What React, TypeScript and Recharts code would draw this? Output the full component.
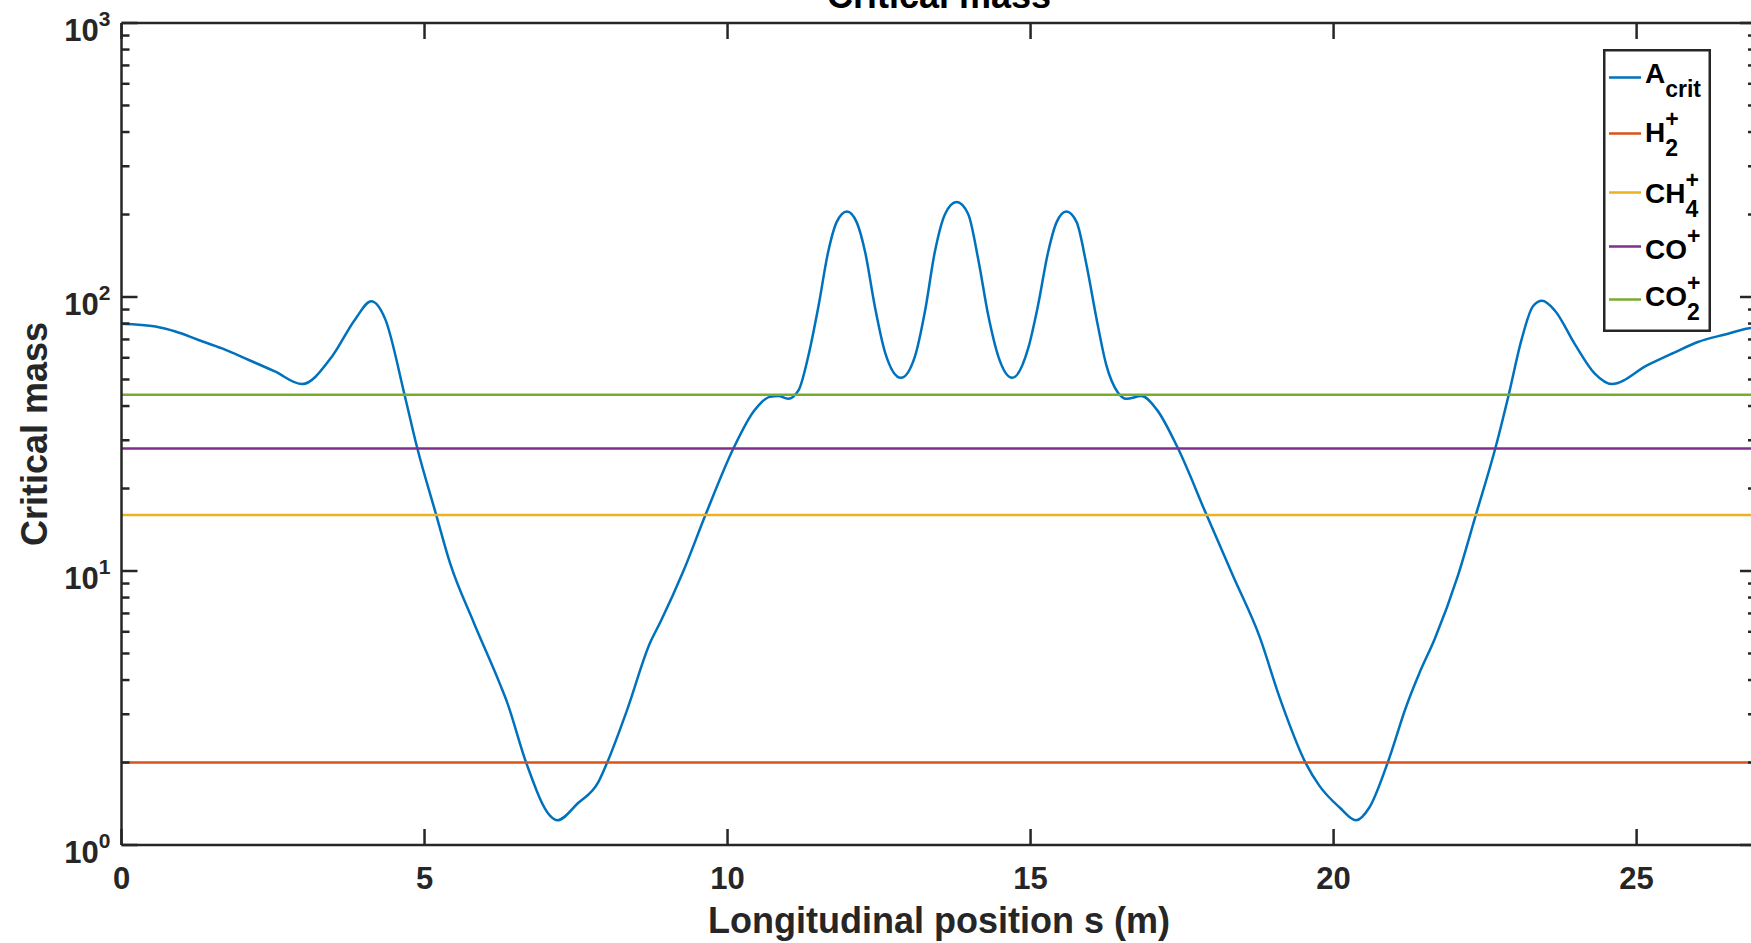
import React from 'react';
import { LineChart, Line, XAxis, YAxis, Legend } from 'recharts';

// longitudinal position s (m) and critical mass
const sPos = [
  0, 0.23, 0.56, 0.89, 1.27, 1.66, 2.1, 2.53, 2.98, 3.47, 3.86, 4.12, 4.35, 4.67, 4.88, 5.19,
  5.42, 5.81, 6.25, 6.36, 6.68, 7.07, 7.19, 7.53, 7.87, 8.01, 8.34, 8.72, 8.89, 9.27, 9.64, 10.1,
  10.43, 10.7, 10.84, 11.0, 11.17, 11.33, 11.5, 11.66, 11.8, 11.97, 12.13, 12.27, 12.43, 12.6,
  12.86, 13.09, 13.26, 13.42, 13.59, 13.78, 13.97, 14.14, 14.3, 14.47, 14.7, 14.96, 15.12,
  15.29, 15.43, 15.59, 15.76, 15.92, 16.09, 16.25, 16.44, 16.58, 16.83, 17.08, 17.43, 17.9,
  18.34, 18.78, 19.11, 19.54, 19.77, 20.1, 20.37, 20.59, 20.89, 21.2, 21.42, 21.67, 22.05,
  22.35, 22.67, 22.89, 23.1, 23.29, 23.44, 23.65, 23.98, 24.31, 24.59, 25.18, 25.61, 26.01,
  26.46, 26.86, 26.97,
];
const aCrit = [
  79.8, 79.4, 78, 74.8, 69.7, 64.9, 58.9, 53.5, 48.1, 60.5, 83.2, 96.5, 83.2, 44, 28.1, 16.1,
  10.7, 6.5, 3.84, 3.33, 1.99, 1.28, 1.23, 1.42, 1.7, 1.99, 3.1, 5.46, 6.5, 9.97, 16.1, 28.1,
  38.2, 43.2, 43.5, 42.5, 45.6, 60.5, 92.5, 146, 187.6, 205, 187.6, 146, 92.5, 62.7,
  50.7, 60.5, 89.3, 146, 201, 222, 201, 136, 86.1, 60.5, 50.7, 64.9, 92.5,
  146, 187.6, 205, 187.6, 132, 83, 56.4, 44.8, 42.5, 43.5, 38.9, 28.1, 16.1,
  9.6, 5.75, 3.45, 1.99, 1.64, 1.37, 1.23, 1.37, 1.99, 3.21, 4.26, 5.66, 9.6,
  16.1, 28.1, 44, 69.7, 92.5, 96.8, 89.3, 67.3, 52.5, 48.1, 56.4, 62.5, 68.5,
  73, 76.9, 77.5,
];

// ion masses drawn as flat lines
const ionKeys = ['h2', 'ch4', 'co', 'co2'];
const ionMass = [2, 16, 28, 44];

const xTicks = [0, 5, 10, 15, 20, 25];
const yTicks = [
  1, 2, 3, 4, 5, 6, 7, 8, 9,
  10, 20, 30, 40, 50, 60, 70, 80, 90,
  100, 200, 300, 400, 500, 600, 700, 800, 900, 1000,
];
const X_MAX = 26.97;

const legendMain = ['A', 'H', 'CH', 'CO', 'CO'];
const legendSub = ['crit', '2', '4', '', '2'];
const legendSup = ['', '+', '+', '+', '+'];

const colors = ['#0072BD', '#D95319', '#EDB120', '#7E2F8E', '#77AC30'];
const INK = '#262626';
const FONT = '"Liberation Sans", Arial, Helvetica, sans-serif';
const AXW = 2.5;

const rows = sPos.map((s, i) => {
  const r: Record<string, number> = { s, acrit: aCrit[i] };
  ionKeys.forEach((k, j) => (r[k] = ionMass[j]));
  return r;
});

const isMajor = (v: number) => Math.abs(Math.log10(v) - Math.round(Math.log10(v))) < 1e-9;

const BottomTick = ({ x, y, payload }: any) => (
  <g>
    <line x1={x} x2={x} y1={y} y2={y - 16} stroke={INK} strokeWidth={AXW} />
    <text x={x} y={y + 44} textAnchor="middle" fontFamily={FONT} fontWeight="bold" fontSize={31} fill={INK}>
      {payload.value}
    </text>
  </g>
);

const TopTick = ({ x, y }: any) => (
  <line x1={x} x2={x} y1={y} y2={y + 16} stroke={INK} strokeWidth={AXW} />
);

const LeftTick = ({ x, y, payload }: any) => {
  const v = payload.value;
  const major = isMajor(v);
  return (
    <g>
      <line x1={x} x2={x + (major ? 16 : 8)} y1={y} y2={y} stroke={INK} strokeWidth={AXW} />
      {major && (
        <text x={x - 11} y={y + 18} textAnchor="end" fontFamily={FONT} fontWeight="bold" fill={INK}>
          <tspan fontSize={31}>10</tspan>
          <tspan fontSize={21} dy={-15}>{Math.round(Math.log10(v))}</tspan>
        </text>
      )}
    </g>
  );
};

const RightTick = ({ x, y, payload }: any) => (
  <line x1={x} x2={x - (isMajor(payload.value) ? 16 : 8)} y1={y} y2={y} stroke={INK} strokeWidth={AXW} />
);

const XLabel = () => (
  <text x={939} y={933} textAnchor="middle" fontFamily={FONT} fontWeight="bold" fontSize={36} fill={INK}>
    Longitudinal position s (m)
  </text>
);

const Title = () => (
  <text x={939} y={8} textAnchor="middle" fontFamily={FONT} fontWeight="bold" fontSize={36} fill="#000">
    Critical mass
  </text>
);

const YLabel = () => (
  <text x={47} y={434} transform="rotate(-90 47 434)" textAnchor="middle" fontFamily={FONT} fontWeight="bold" fontSize={36} fill={INK}>
    Critical mass
  </text>
);

// legend row positions inside the box
const legLineY = [28.5, 84.5, 143.5, 197.5, 250.5];
const legBase = [34, 93, 154, 209.5, 257];

const LegendBox = () => (
  <svg width={108} height={283} style={{ display: 'block' }}>
    <rect x={1.25} y={1.25} width={105.5} height={280.5} fill="#fff" stroke={INK} strokeWidth={2.5} />
    {legendMain.map((m, i) => (
      <g key={i} fontFamily={FONT} fontWeight="bold" fill="#000">
        <line x1={6} x2={38} y1={legLineY[i]} y2={legLineY[i]} stroke={colors[i]} strokeWidth={2.5} />
        <text x={42} y={legBase[i]} fontSize={28}>
          {m}
          {legendSub[i] && (
            <tspan fontSize={23} dy={14}>{legendSub[i]}</tspan>
          )}
        </text>
        {legendSup[i] && (
          <text x={42} y={legBase[i]} fontSize={28}>
            <tspan fill="none">{m}</tspan>
            <tspan fontSize={23} dy={-15}>{legendSup[i]}</tspan>
          </text>
        )}
      </g>
    ))}
  </svg>
);

export default function App() {
  return (
    <div style={{ position: 'absolute', left: 0, top: 0, width: 1751, height: 943, overflow: 'hidden', background: '#fff' }}>
      <LineChart width={1800} height={943} data={rows} margin={{ top: 0, right: 0, bottom: 0, left: 0 }}>
        <XAxis
          xAxisId="b" dataKey="s" type="number" domain={[0, X_MAX]} allowDataOverflow
          ticks={xTicks} interval={0} height={98} tickSize={0} tickMargin={0} tickLine={false}
          axisLine={{ stroke: INK, strokeWidth: AXW }} tick={BottomTick} label={{ content: XLabel }}
        />
        <XAxis
          xAxisId="t" orientation="top" dataKey="s" type="number" domain={[0, X_MAX]} allowDataOverflow
          ticks={xTicks} interval={0} height={23} tickSize={0} tickMargin={0} tickLine={false}
          axisLine={{ stroke: INK, strokeWidth: AXW }} tick={TopTick} label={{ content: Title }}
        />
        <YAxis
          yAxisId="l" scale="log" domain={[1, 1000]} allowDataOverflow ticks={yTicks} interval={0}
          width={121.5} tickSize={0} tickMargin={0} tickLine={false}
          axisLine={{ stroke: INK, strokeWidth: AXW }} tick={LeftTick} label={{ content: YLabel }}
        />
        <YAxis
          yAxisId="r" orientation="right" scale="log" domain={[1, 1000]} allowDataOverflow ticks={yTicks}
          interval={0} width={44} tickSize={0} tickMargin={0} tickLine={false}
          axisLine={{ stroke: INK, strokeWidth: AXW }} tick={RightTick}
        />
        <Line
          xAxisId="b" yAxisId="l" dataKey="acrit" type="monotone" stroke={colors[0]} strokeWidth={2.5}
          dot={false} isAnimationActive={false}
        />
        {ionKeys.map((k, j) => (
          <Line
            key={k} xAxisId="b" yAxisId="l" dataKey={k} type="linear" stroke={colors[j + 1]}
            strokeWidth={2.5} dot={false} isAnimationActive={false}
          />
        ))}
        <Legend
          layout="vertical" align="center" verticalAlign="middle"
          wrapperStyle={{ left: 1603, top: 49, width: 108, height: 283 }}
          content={() => <LegendBox />}
        />
      </LineChart>
    </div>
  );
}
